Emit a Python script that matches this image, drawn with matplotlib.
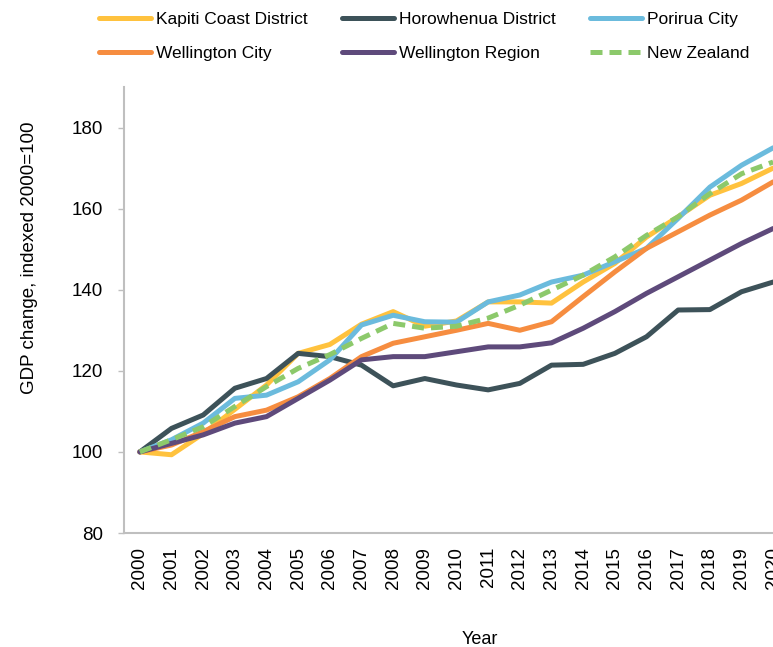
import numpy as np
import matplotlib
matplotlib.use("Agg")
import matplotlib.pyplot as plt

plt.rcParams['font.family'] = ['Liberation Sans', 'DejaVu Sans']

years = list(range(2000, 2021))

kapiti = [100, 99.3, 104.5, 110.5, 116.5, 124.3, 126.5, 131.5, 134.6, 131.0, 132.3,
          137.0, 137.0, 136.7, 141.9, 146.5, 153.0, 158.0, 163.3, 166.2, 170.0]
horowhenua = [100, 105.8, 109.1, 115.7, 118.1, 124.3, 123.5, 121.4, 116.3, 118.1, 116.5,
              115.3, 116.9, 121.4, 121.6, 124.3, 128.4, 135.0, 135.1, 139.5, 141.9]
porirua = [100, 103.0, 107.1, 113.2, 114.0, 117.3, 122.7, 131.3, 133.7, 132.1, 132.0,
           137.0, 138.7, 141.9, 143.6, 146.9, 150.2, 157.6, 165.3, 170.7, 175.0]
wellington_city = [100, 101.7, 105.0, 108.7, 110.3, 113.6, 118.1, 123.5, 126.8, 128.4, 130.0,
                   131.7, 130.0, 132.1, 138.3, 144.4, 150.2, 154.3, 158.4, 162.1, 166.6]
wellington_region = [100, 102.1, 104.2, 107.1, 108.7, 113.2, 117.7, 122.7, 123.5, 123.5, 124.7,
                     125.9, 125.9, 126.9, 130.5, 134.6, 139.1, 143.2, 147.3, 151.4, 155.1]
new_zealand = [100, 103.0, 106.2, 111.2, 116.1, 120.6, 124.0, 128.0, 131.7, 130.5, 131.0,
               133.0, 136.2, 139.9, 143.6, 148.1, 153.4, 158.0, 163.7, 168.6, 171.5]

series = [
    ("Kapiti Coast District", kapiti, "#FFC23E", "-"),
    ("Horowhenua District", horowhenua, "#3D5259", "-"),
    ("Porirua City", porirua, "#6BBBDD", "-"),
    ("Wellington City", wellington_city, "#F68D40", "-"),
    ("Wellington Region", wellington_region, "#5E4A7B", "-"),
    ("New Zealand", new_zealand, "#8CC96B", "--"),
]

fig = plt.figure(figsize=(7.73, 6.47), dpi=100)
ax = fig.add_axes([124 / 773, 1 - 533 / 647, (789 - 124) / 773, (533 - 87) / 647])

x = np.arange(len(years))
handles = []
for name, vals, color, ls in series:
    if ls == "--":
        h, = ax.plot(x, vals, color=color, lw=3.6, ls=(0, (2.4, 1.4)), label=name,
                     dash_capstyle='butt', zorder=3)
    else:
        h, = ax.plot(x, vals, color=color, lw=3.6, label=name, solid_capstyle='round',
                     solid_joinstyle='round')
    handles.append(h)

ax.set_xlim(-0.5, len(years) - 0.5)
ax.set_ylim(80, 190)
ax.set_yticks(range(80, 200, 20))
ax.set_xticks(x)
ax.set_xticklabels([str(y) for y in years], rotation=90, fontsize=13.5)
ax.tick_params(axis='x', length=0, pad=10)
ax.tick_params(axis='y', length=4, width=1, color='#BFBFBF', pad=11, labelsize=13.5)

for s in ['top', 'right']:
    ax.spines[s].set_visible(False)
for s in ['left', 'bottom']:
    ax.spines[s].set_color('#BFBFBF')
    ax.spines[s].set_linewidth(1.5)

ax.set_xlabel("Year", fontsize=13)
ax.xaxis.set_label_coords((480 - 124) / 665, (533 - 631) / 446)
ax.set_ylabel("GDP change, indexed 2000=100", fontsize=13.5)
ax.yaxis.set_label_coords((38 - 124) / 665, (533 - 258) / 446)

# legend filled column by column: reorder so rows read like the reference
order = [0, 3, 1, 4, 2, 5]
fig.legend([handles[i] for i in order], [series[i][0] for i in order],
           loc='upper left', bbox_to_anchor=(99 / 773, 1 - 12 / 647), ncol=3,
           frameon=False, fontsize=12.5, handlelength=3.0, handletextpad=0.3,
           columnspacing=1.95, labelspacing=1.08, borderpad=0, borderaxespad=0)

fig.savefig("out.png", dpi=100)
